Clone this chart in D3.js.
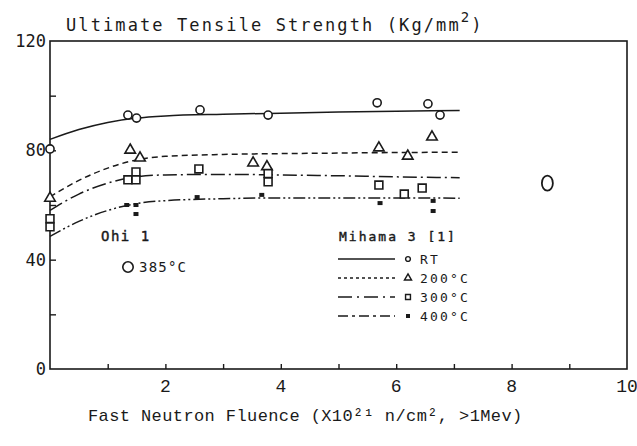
<!DOCTYPE html>
<html>
<head>
<meta charset="utf-8">
<script src="https://cdn.jsdelivr.net/npm/d3@7"></script>
<style>
  html, body { margin: 0; padding: 0; background: #fff; }
  svg { display: block; }
  .sans { font-family: "DejaVu Sans Mono", monospace; }
  .mono { font-family: "Liberation Mono", "Courier New", monospace; }
</style>
</head>
<body>
<svg id="chart" width="637" height="446"></svg>
<script>
// Ultimate tensile strength vs fast neutron fluence, Mihama 3 and Ohi 1

const xTicks = [2, 4, 6, 8, 10];
const xMinor = [1, 2, 3, 4, 5, 6, 7, 8, 9];
const yTicks = [0, 40, 80, 120];
const yMinor = [20, 40, 60, 80, 100];

// Mihama 3 measurements (fluence, strength)
const rtX = [0, 1.35, 1.5, 2.6, 3.78, 5.67, 6.55, 6.76];
const rtY = [80.5, 92.9, 91.8, 94.8, 92.9, 97.4, 97.0, 92.9];
const t200X = [0, 1.39, 1.56, 3.52, 3.76, 5.7, 6.2, 6.62];
const t200Y = [62.5, 80.1, 77.2, 75.4, 74.0, 80.9, 77.9, 84.9];
const t300X = [0, 0, 1.35, 1.49, 1.49, 2.58, 3.78, 3.78, 5.7, 6.14, 6.45];
const t300Y = [55.0, 52.0, 69.2, 72.1, 69.2, 73.2, 71.5, 68.5, 67.3, 64.0, 66.2];
const t400X = [1.33, 1.49, 1.49, 2.55, 3.67, 5.72, 6.64, 6.64];
const t400Y = [60.0, 60.0, 56.7, 62.9, 63.7, 60.7, 61.5, 57.8];

// Fitted trend curves
const fitX = [0, 0.5, 1, 1.5, 2, 3, 4, 5, 6, 7.1];
const fitRT = [84, 87.6, 90.2, 91.8, 92.6, 93.2, 93.6, 94.0, 94.3, 94.6];
const fit200 = [63, 69, 73.5, 76.5, 77.8, 78.5, 78.8, 79.0, 79.2, 79.3];
const fit300 = [58, 64, 68, 70.3, 71, 71.2, 71, 70.7, 70.3, 70];
const fit400 = [48.5, 54, 58, 60.5, 61.6, 62.3, 62.6, 62.6, 62.6, 62.5];

// Ohi 1 at 385 °C
const ohiX = [8.62];
const ohiY = [68];

const legendLabels = ["RT", "200°C", "300°C", "400°C"];

const svg = d3.select("#chart");
const ink = "#1a1a1a";

const x = d3.scaleLinear().domain([0, 10]).range([50, 627]);
const y = d3.scaleLinear().domain([0, 120]).range([369, 41]);

// Frame
svg.append("rect")
  .attr("x", x(0)).attr("y", y(120))
  .attr("width", x(10) - x(0)).attr("height", y(0) - y(120))
  .attr("fill", "none").attr("stroke", ink).attr("stroke-width", 1.6);

// Bottom axis: inward minor ticks at every integer, labels at even values
const xAxis = d3.axisTop(x).tickValues(xMinor).tickSize(5).tickFormat("");
const gx = svg.append("g").attr("transform", `translate(0,${y(0)})`).call(xAxis);
gx.select(".domain").remove();
gx.selectAll("line").attr("stroke", ink).attr("stroke-width", 1.4);

svg.append("g").selectAll("text").data(xTicks).join("text")
  .attr("class", "mono")
  .attr("x", d => x(d)).attr("y", 392)
  .attr("text-anchor", "middle")
  .attr("font-size", 18).attr("fill", ink)
  .text(d => d);

// Left axis: inward ticks
const yAxis = d3.axisRight(y).tickValues(yMinor).tickSize(6).tickFormat("");
const gy = svg.append("g").attr("transform", `translate(${x(0)},0)`).call(yAxis);
gy.select(".domain").remove();
gy.selectAll("line").attr("stroke", ink).attr("stroke-width", 1.4);

svg.append("g").selectAll("text").data(yTicks).join("text")
  .attr("class", "sans")
  .attr("x", 46).attr("y", d => y(d) + 6)
  .attr("text-anchor", "end")
  .attr("font-size", 17).attr("fill", ink)
  .text(d => d);

// Title
const title = svg.append("text").attr("class", "sans")
  .attr("x", 66).attr("y", 31)
  .attr("font-size", 17).attr("letter-spacing", 2.1).attr("fill", ink);
title.append("tspan").text("Ultimate Tensile Strength (Kg/mm");
title.append("tspan").attr("dy", -9).attr("font-size", 14).text("2");
title.append("tspan").attr("dy", 9).text(")");

// X axis label
svg.append("text").attr("class", "mono")
  .attr("x", 88).attr("y", 421)
  .attr("font-size", 17).attr("letter-spacing", 0.4).attr("fill", ink)
  .text("Fast Neutron Fluence (X10²¹ n/cm², >1Mev)");

// Trend curves
const series = [
  { fit: fitRT, dash: null },
  { fit: fit200, dash: "6,4" },
  { fit: fit300, dash: "14,4,2,4" },
  { fit: fit400, dash: "12,3,2,3,2,3" }
];
const line = d3.line()
  .x(d => x(d[0])).y(d => y(d[1]))
  .curve(d3.curveMonotoneX);
series.forEach(s => {
  svg.append("path")
    .datum(fitX.map((v, i) => [v, s.fit[i]]))
    .attr("d", line)
    .attr("fill", "none").attr("stroke", ink).attr("stroke-width", 1.5)
    .attr("stroke-dasharray", s.dash);
});

// Markers
const circleSym = d3.symbol().type(d3.symbolCircle).size(52);
const triSym = d3.symbol().type(d3.symbolTriangle).size(48);
const sqSym = d3.symbol().type(d3.symbolSquare).size(62);

function drawPoints(xs, ys, sym, fill) {
  svg.append("g").selectAll("path").data(xs.map((v, i) => [v, ys[i]])).join("path")
    .attr("transform", d => `translate(${x(d[0])},${y(d[1])})`)
    .attr("d", sym)
    .attr("fill", fill)
    .attr("stroke", ink).attr("stroke-width", 1.6);
}
drawPoints(rtX, rtY, circleSym, "#fff");
drawPoints(t200X, t200Y, triSym, "#fff");
drawPoints(t300X, t300Y, sqSym, "#fff");
svg.append("g").selectAll("rect").data(t400X.map((v, i) => [v, t400Y[i]])).join("rect")
  .attr("x", d => x(d[0]) - 2.5).attr("y", d => y(d[1]) - 2)
  .attr("width", 5).attr("height", 4).attr("fill", ink);

// Ohi 1 point
svg.append("g").selectAll("ellipse").data(ohiX.map((v, i) => [v, ohiY[i]])).join("ellipse")
  .attr("cx", d => x(d[0])).attr("cy", d => y(d[1]))
  .attr("rx", 5.5).attr("ry", 7.5)
  .attr("fill", "#fff").attr("stroke", ink).attr("stroke-width", 1.8);

// Ohi 1 legend
svg.append("text").attr("class", "sans")
  .attr("x", 101).attr("y", 241)
  .attr("font-size", 14).attr("letter-spacing", 1.5).attr("fill", ink)
  .attr("stroke", ink).attr("stroke-width", 0.4)
  .text("Ohi 1");
svg.append("path")
  .attr("transform", `translate(128,267)`)
  .attr("d", d3.symbol().type(d3.symbolCircle).size(85))
  .attr("fill", "none").attr("stroke", ink).attr("stroke-width", 1.6);
svg.append("text").attr("class", "sans")
  .attr("x", 139).attr("y", 272)
  .attr("font-size", 14).attr("letter-spacing", 1.2).attr("fill", ink)
  .text("385°C");

// Mihama 3 legend
const lg = svg.append("g");
lg.append("text").attr("class", "sans")
  .attr("x", 339).attr("y", 241)
  .attr("font-size", 13).attr("letter-spacing", 2).attr("fill", ink)
  .attr("stroke", ink).attr("stroke-width", 0.4)
  .text("Mihama 3 [1]");
const legendDash = [null, "3,3", "14,5,2,5", "10,4,3,4"];
const legendSym = [
  d3.symbol().type(d3.symbolCircle).size(18),
  d3.symbol().type(d3.symbolTriangle).size(22),
  d3.symbol().type(d3.symbolSquare).size(24),
  null
];
const rowY = [259, 278, 297, 316];
legendLabels.forEach((lab, i) => {
  lg.append("line")
    .attr("x1", 338).attr("x2", 395)
    .attr("y1", rowY[i]).attr("y2", rowY[i])
    .attr("stroke", ink).attr("stroke-width", 1.5)
    .attr("stroke-dasharray", legendDash[i]);
  if (legendSym[i]) {
    lg.append("path")
      .attr("transform", `translate(408,${rowY[i]})`)
      .attr("d", legendSym[i])
      .attr("fill", "none").attr("stroke", ink).attr("stroke-width", 1.4);
  } else {
    lg.append("rect")
      .attr("x", 406).attr("y", rowY[i] - 2)
      .attr("width", 4).attr("height", 4).attr("fill", ink);
  }
  lg.append("text").attr("class", "sans")
    .attr("x", 420).attr("y", rowY[i] + 5)
    .attr("font-size", 13).attr("letter-spacing", 2.2).attr("fill", ink)
    .text(lab);
});
</script>
</body>
</html>
